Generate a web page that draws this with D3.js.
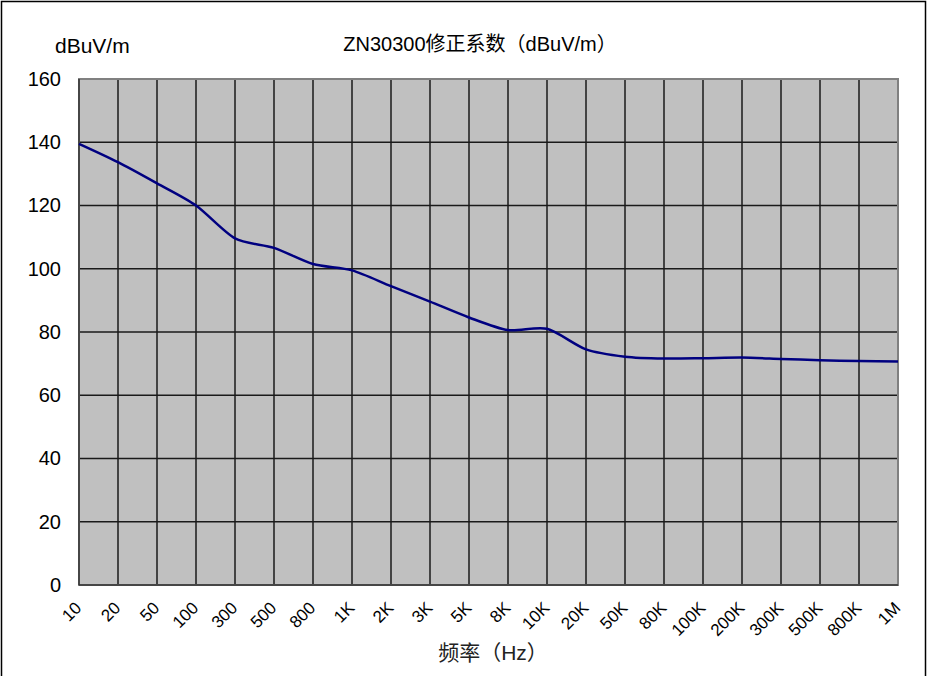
<!DOCTYPE html>
<html><head><meta charset="utf-8">
<script src="https://cdn.jsdelivr.net/npm/d3@7/dist/d3.min.js"></script>
<style>body{margin:0;background:#fff}svg{display:block}</style>
</head><body><svg id="c" width="930" height="676"></svg>
<script>
const categories = ["10","20","50","100","300","500","800","1K","2K","3K","5K","8K","10K","20K","50K","80K","100K","200K","300K","500K","800K","1M"];
const values = [139.5,133.7,127,120,109.6,106.6,101.5,99.5,94.5,89.6,84.6,80.6,81,74.5,72.2,71.6,71.7,71.9,71.5,71.1,70.8,70.7];
const yTicks = [0,20,40,60,80,100,120,140,160];
const title = "ZN30300修正系数（dBuV/m）";
const yUnit = "dBuV/m";
const xTitle = "频率（Hz）";

const svg = d3.select("#c");
const font = "'Liberation Sans', Arial, 'Noto Sans CJK SC', sans-serif";
const L = 79, R = 898, T = 79, B = 585;

svg.append("rect").attr("x",1.5).attr("y",1.5).attr("width",924).attr("height",678)
  .attr("fill","#fff").attr("stroke","#000").attr("stroke-width",1.5);

const x = d3.scalePoint().domain(categories).range([L,R]);
const y = d3.scaleLinear().domain([0,160]).range([B,T]);

svg.append("rect").attr("x",L).attr("y",T).attr("width",R-L).attr("height",B-T).attr("fill","#c0c0c0");

// grid
svg.append("g").selectAll("line").data(yTicks.filter(d=>d>0&&d<160)).join("line")
  .attr("x1",L).attr("x2",R).attr("y1",d=>y(d)).attr("y2",d=>y(d))
  .attr("stroke","#1a1a1a").attr("stroke-width",1.5);
svg.append("g").selectAll("line").data(categories.slice(1,-1)).join("line")
  .attr("x1",d=>x(d)).attr("x2",d=>x(d)).attr("y1",T).attr("y2",B)
  .attr("stroke","#1a1a1a").attr("stroke-width",1.5);

// plot border
svg.append("rect").attr("x",L).attr("y",T).attr("width",R-L).attr("height",B-T)
  .attr("fill","none").attr("stroke","#808080").attr("stroke-width",2);
svg.append("line").attr("x1",L).attr("x2",L).attr("y1",T).attr("y2",B).attr("stroke","#333").attr("stroke-width",1.5);
svg.append("line").attr("x1",L).attr("x2",R).attr("y1",B).attr("y2",B).attr("stroke","#333").attr("stroke-width",1.5);

// y axis
const ya = svg.append("g").attr("transform",`translate(${L},0)`)
  .call(d3.axisLeft(y).tickValues(yTicks).tickSize(0).tickPadding(18));
ya.select(".domain").remove();
ya.selectAll("text").attr("font-family",font).attr("font-size",20).attr("fill","#000");

// x axis
const xa = svg.append("g").attr("transform",`translate(0,${B})`)
  .call(d3.axisBottom(x).tickSize(0));
xa.select(".domain").remove();
xa.selectAll("text").attr("font-family",font).attr("font-size",17).attr("fill","#000")
  .attr("text-anchor","end").attr("dy",0).attr("y",0)
  .attr("transform","translate(3,24) rotate(-45)");

// line
const line = d3.line().x((d,i)=>x(categories[i])).y(d=>y(d)).curve(d3.curveCardinal.tension(0.2));
svg.append("path").datum(values).attr("d",line).attr("fill","none")
  .attr("stroke","#000080").attr("stroke-width",2.5);

// texts
svg.append("text").attr("x",480).attr("y",51).attr("text-anchor","middle")
  .attr("font-family",font).attr("font-size",20).text(title);
svg.append("text").attr("x",55).attr("y",53)
  .attr("font-family",font).attr("font-size",21).text(yUnit);
svg.append("text").attr("x",493).attr("y",660).attr("text-anchor","middle")
  .attr("font-family",font).attr("font-size",21).attr("fill","#222").text(xTitle);
</script></body></html>
